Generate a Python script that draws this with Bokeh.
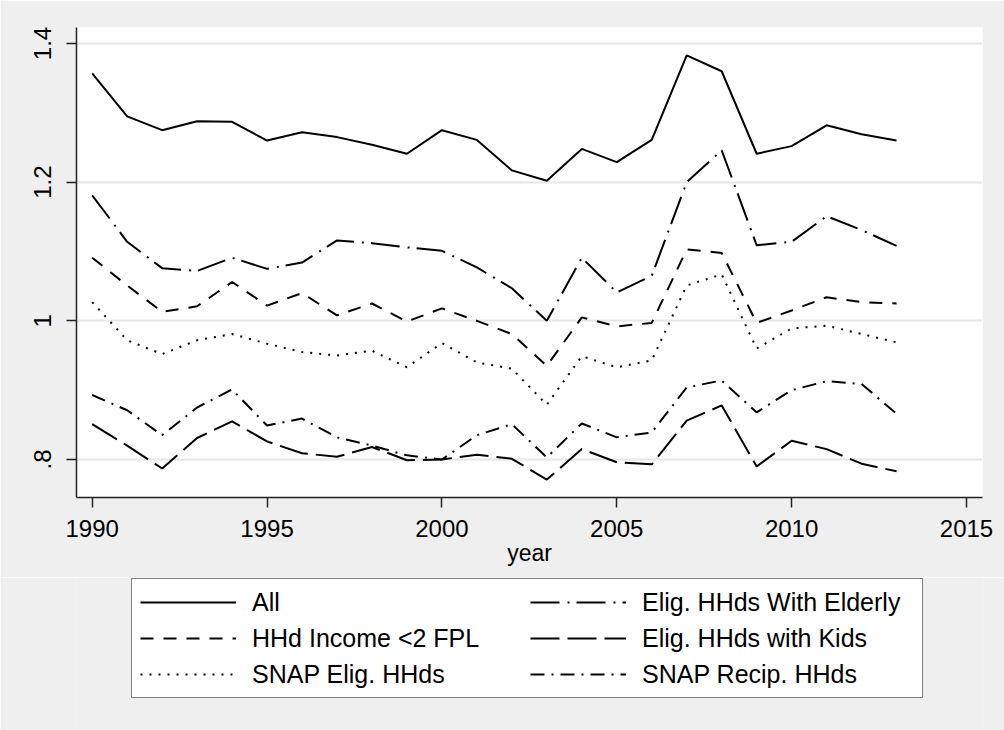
from bokeh.plotting import figure
from bokeh.layouts import column
from bokeh.models import Range1d, FixedTicker, Legend, LegendItem
from bokeh.embed import file_html
from bokeh.resources import INLINE

years = list(range(1990, 2014))

all_hh = [1.357, 1.295, 1.275, 1.288, 1.287, 1.260, 1.272, 1.265, 1.254, 1.241,
          1.275, 1.261, 1.217, 1.202, 1.248, 1.229, 1.261, 1.383, 1.360, 1.241,
          1.252, 1.282, 1.269, 1.260]
income_2fpl = [1.091, 1.051, 1.013, 1.021, 1.056, 1.022, 1.040, 1.008, 1.025, 0.999,
               1.018, 1.000, 0.981, 0.935, 1.005, 0.992, 0.997, 1.103, 1.098, 0.997,
               1.015, 1.034, 1.027, 1.025]
snap_elig = [1.027, 0.972, 0.952, 0.972, 0.981, 0.967, 0.955, 0.950, 0.957, 0.933,
             0.968, 0.940, 0.931, 0.879, 0.949, 0.933, 0.943, 1.051, 1.067, 0.960,
             0.989, 0.993, 0.981, 0.969]
elderly = [1.181, 1.114, 1.076, 1.072, 1.091, 1.075, 1.084, 1.116, 1.112, 1.106,
           1.101, 1.077, 1.047, 1.000, 1.091, 1.041, 1.065, 1.200, 1.246, 1.109,
           1.114, 1.151, 1.131, 1.108]
kids = [0.851, 0.820, 0.787, 0.831, 0.855, 0.826, 0.809, 0.804, 0.818, 0.799,
        0.800, 0.807, 0.801, 0.771, 0.815, 0.796, 0.793, 0.856, 0.878, 0.790,
        0.827, 0.815, 0.794, 0.783]
snap_recip = [0.893, 0.871, 0.835, 0.875, 0.901, 0.849, 0.859, 0.832, 0.820, 0.806,
              0.800, 0.835, 0.851, 0.803, 0.852, 0.832, 0.839, 0.904, 0.914, 0.868,
              0.900, 0.913, 0.909, 0.866]

labels = ["All", "HHd Income <2 FPL", "SNAP Elig. HHds",
          "Elig. HHds With Elderly", "Elig. HHds with Kids", "SNAP Recip. HHds"]
series = [all_hh, income_2fpl, snap_elig, elderly, kids, snap_recip]
dashes = ["solid", "13 10", "2 7", "29 8 2 7", "29 8", "14 7 2 7"]

x_ticks = [1990, 1995, 2000, 2005, 2010, 2015]
y_ticks = [0.8, 1.0, 1.2, 1.4]
y_tick_labels = {0.8: ".8", 1.0: "1", 1.2: "1.2", 1.4: "1.4"}

FONT = "Liberation Sans"
BG = "#EFEFEF"

# main chart
p = figure(width=1004, height=577, output_backend="svg", toolbar_location=None,
           x_range=Range1d(1989.551, 2015.458), y_range=Range1d(0.7452, 1.4231),
           min_border_left=76, min_border_right=22, min_border_top=27,
           min_border_bottom=80)
p.background_fill_color = "white"
p.border_fill_color = BG
p.outline_line_color = None

for ys, d in zip(series, dashes):
    p.line(years, ys, line_color="black", line_width=2, line_dash=d)

p.xgrid.grid_line_color = None
p.ygrid.grid_line_color = "#E6E6E6"
p.ygrid.grid_line_width = 2
p.ygrid.ticker = FixedTicker(ticks=y_ticks)

p.xaxis.ticker = FixedTicker(ticks=x_ticks)
p.yaxis.ticker = FixedTicker(ticks=y_ticks)
p.yaxis.major_label_overrides = y_tick_labels
p.yaxis.major_label_orientation = "vertical"
p.xaxis.axis_label = "year"

for ax in (p.xaxis[0], p.yaxis[0]):
    ax.axis_line_color = "#222222"
    ax.axis_line_width = 1.5
    ax.major_tick_line_color = "#222222"
    ax.major_tick_line_width = 1.5
    ax.major_tick_out = 10
    ax.major_tick_in = 0
    ax.minor_tick_line_color = None
    ax.major_label_text_font = FONT
    ax.major_label_text_font_size = "24px"
    ax.major_label_text_color = "black"
    ax.axis_label_text_font = FONT
    ax.axis_label_text_font_size = "23px"
    ax.axis_label_text_font_style = "normal"
    ax.axis_label_text_color = "black"

p.yaxis.major_label_standoff = 15
p.xaxis.major_label_standoff = 12
p.xaxis.axis_label_standoff = 0

# legend panel below the chart (its glyph lines carry the same series, out of view)
q = figure(width=1004, height=153, output_backend="svg", toolbar_location=None,
           x_range=Range1d(0, 1), y_range=Range1d(0, 1),
           x_axis_location=None, y_axis_location=None,
           min_border=0)
q.background_fill_color = BG
q.border_fill_color = BG
q.outline_line_color = None
q.grid.visible = False

items = []
for lab, ys, d in zip(labels, series, dashes):
    r = q.line(years, ys, line_color="black", line_width=2, line_dash=d)
    items.append(LegendItem(label=lab, renderers=[r]))

legend = Legend(items=items, ncols=2, orientation="vertical",
                location=(55, 32), margin=0, padding=8, spacing=6,
                glyph_width=96, glyph_height=30, label_height=30,
                label_standoff=16, label_width=272,
                label_text_font=FONT, label_text_font_size="25px",
                label_text_color="black",
                border_line_color="black", border_line_width=1,
                background_fill_color="white", background_fill_alpha=1.0)
q.add_layout(legend, "center")

layout = column(p, q, spacing=0)
open("out.html", "w").write(file_html(layout, INLINE))
